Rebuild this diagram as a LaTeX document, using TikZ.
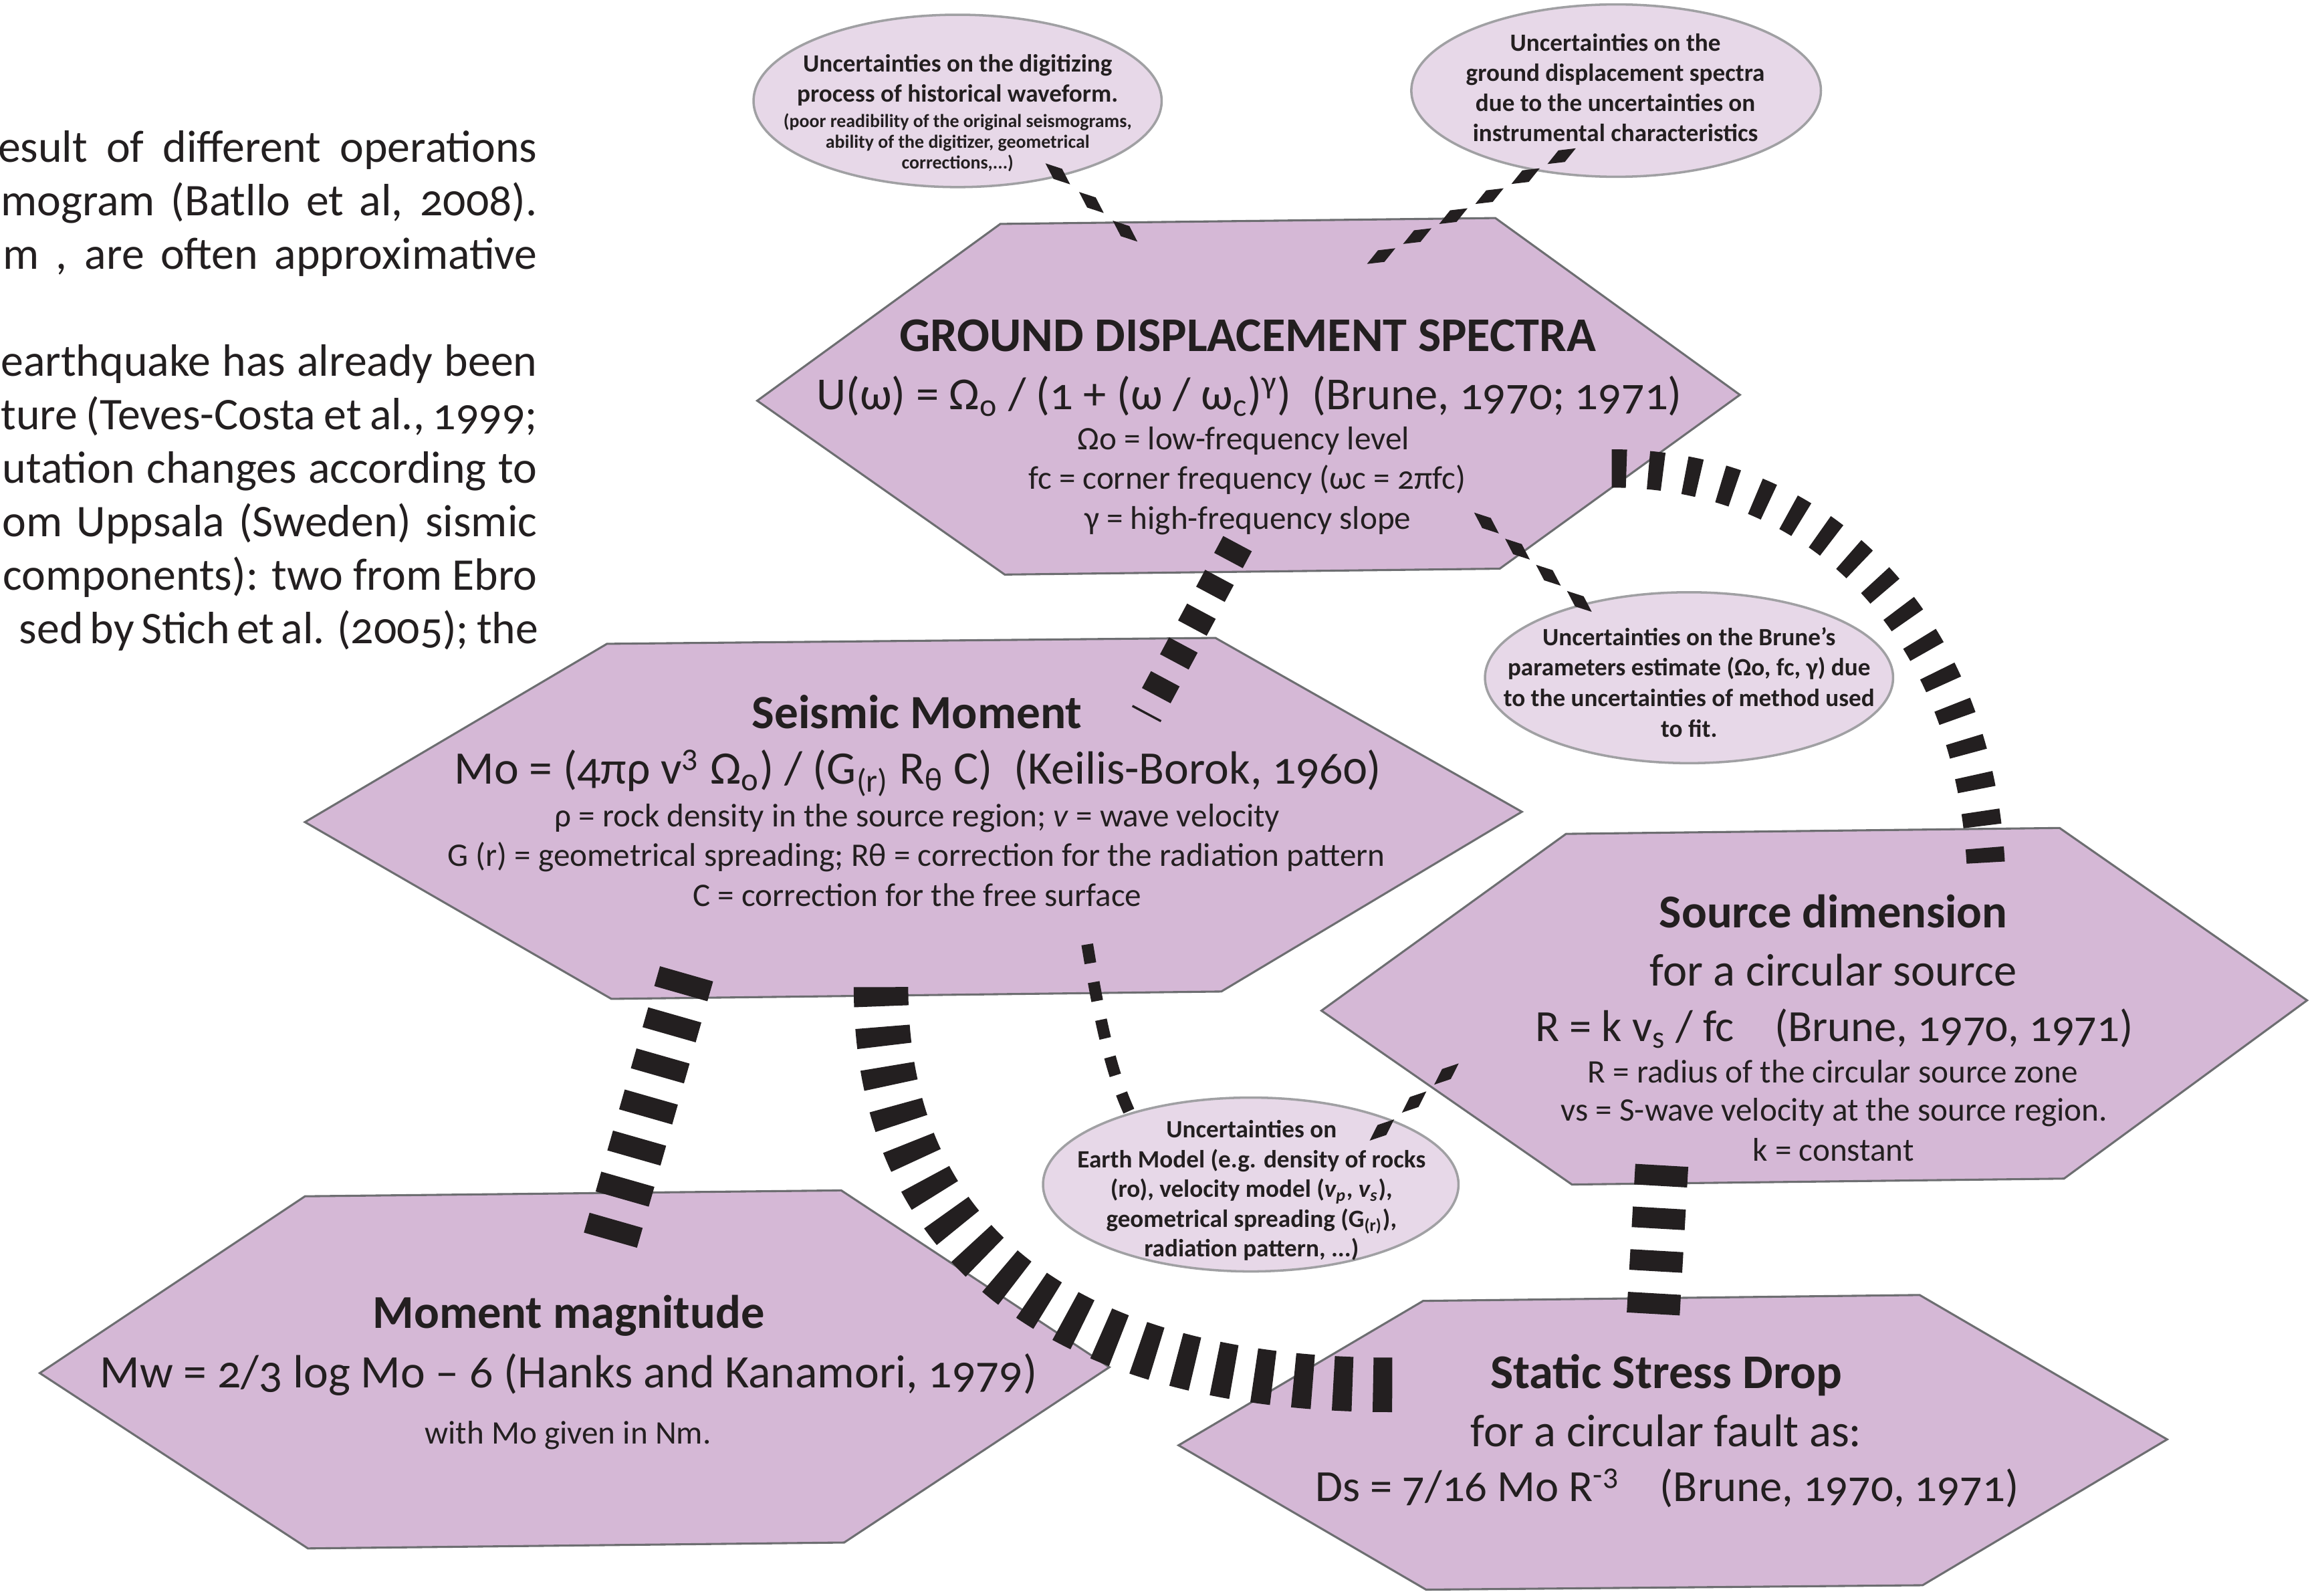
\documentclass[tikz,border=0pt]{standalone}
\usepackage{fontspec}
\setmainfont{Carlito}[Numbers=OldStyle]
\usetikzlibrary{shapes.geometric,decorations.markings,calc}

\definecolor{ink}{HTML}{231F20}
\definecolor{hexfill}{HTML}{D5B8D6}
\definecolor{hexline}{HTML}{6D6E71}
\definecolor{bubfill}{HTML}{E7D8E8}
\definecolor{bubline}{HTML}{A0A0A3}

\tikzset{
  hexa/.style={fill=hexfill, draw=hexline, line width=0.28mm},
  bubble/.style={ellipse, fill=bubfill, draw=bubline, line width=0.32mm, inner sep=0pt},
  ttl/.style={anchor=base, inner sep=0pt, text=ink, font=\fontsize{#1}{#1}\selectfont\bfseries},
  ttl/.default=18.4,
  eqn/.style={anchor=base, inner sep=0pt, text=ink, font=\fontsize{#1}{#1}\selectfont},
  eqn/.default=18,
  note/.style={anchor=base, inner sep=0pt, text=ink, font=\fontsize{12.7}{15}\selectfont},
  bubtext/.style 2 args={align=center, inner sep=0pt, text=ink, font=\fontsize{#1}{#2}\selectfont\bfseries},
  para/.style={anchor=base east, inner sep=0pt, text=ink, font=\fontsize{17.5}{20}\selectfont},
  bars/.style={draw=ink, line cap=butt},
  diamonds/.style={decoration={markings, mark=between positions 0 and 1 step #1 with {\fill[ink] (-11,0) -- (0,4.5) -- (11,0) -- (0,-4.5) -- cycle;}}, decorate},
}

\begin{document}
\begin{tikzpicture}[x=0.2mm, y=-0.2mm]
\path[use as bounding box, fill=white] (0,0) rectangle (1568,1083);

\foreach \i/\y/\xs/\txt in {1/110/-1/{esult of different operations}, 2/146.3/1/{mogram (Batllo et al, 2008).}, 3/182.6/2.5/{m , are often approximative}, 4/255.2/1/{earthquake has already been}, 5/291.5/1/{ture (Teves-Costa et al., 1999;}, 6/327.8/2/{utation changes according to}, 7/364.1/2/{om Uppsala (Sweden) sismic}, 8/400.4/2.5/{components): two from Ebro}, 9/436.7/13.5/{sed by Stich et al. (2005); the}}{
  \pgfmathsetlengthmacro{\w}{(365-\xs)*0.2mm}
  \node[para] (par-\i) at (365,\y) {\makebox[\w][s]{\txt}};
}

\draw[hexa] (679,152) -- (1015,148) -- (1181,268) -- (1018,386) -- (682,390) -- (514,272) -- cycle;
\coordinate (gds) at (848,269);
\node[ttl=18.7] (gds-1) at (847,238.5) {GROUND DISPLACEMENT SPECTRA};
\node[eqn=17.7] (gds-2) at (848,278) {U(ω) = Ω\textsubscript{o} / (1 + (ω / ω\textsubscript{c})\textsuperscript{γ})~~(Brune, 1970; 1971)};
\node[note] (gds-3) at (844,305) {Ωo = low-frequency level};
\node[note] (gds-4) at (846.5,332) {fc = corner frequency (ωc = 2πfc)};
\node[note] (gds-5) at (847,359) {γ = high-frequency slope};

\draw[hexa] (412,437) -- (825,433) -- (1033,551) -- (829,673) -- (415,678) -- (207,558) -- cycle;
\coordinate (moment) at (620,555);
\node[ttl] (moment-1) at (622.5,494.5) {Seismic Moment};
\node[eqn] (moment-2) at (623,532) {Mo = (4πρ v\textsuperscript{3} Ω\textsubscript{o}) / (G\textsubscript{(r)} R\textsubscript{θ} C)~~(Keilis-Borok, 1960)};
\node[note] (moment-3) at (622.5,561) {ρ = rock density in the source region; \textit{v} = wave velocity};
\node[note] (moment-4) at (622,588) {G (r) = geometrical spreading; Rθ = correction for the radiation pattern};
\node[note] (moment-5) at (622.5,615) {C = correction for the free surface};

\draw[hexa] (207,812) -- (571,808) -- (753,928) -- (573,1047) -- (209,1051) -- (27,932) -- cycle;
\coordinate (mag) at (390,932);
\node[ttl=18.2] (mag-1) at (386,901.5) {Moment magnitude};
\node[eqn] (mag-2) at (386,942) {Mw = 2/3 log Mo -- 6 (Hanks and Kanamori, 1979)};
\node[note] (mag-3) at (385.5,980) {with Mo given in Nm.};

\draw[hexa] (966,883) -- (1303,879) -- (1471,977) -- (1305,1076) -- (968,1079) -- (800,981) -- cycle;
\coordinate (drop) at (1135,979);
\node[ttl=18.7] (drop-1) at (1131,942.5) {Static Stress Drop};
\node[eqn=17.7] (drop-2) at (1131,982) {for a circular fault as:};
\node[eqn=17.2] (drop-3) at (1131.5,1019) {Ds = 7/16 Mo R\textsuperscript{-3}\hspace{0.9em}(Brune, 1970, 1971)};

\draw[hexa] (1063,566) -- (1398,562) -- (1566,679) -- (1401,800) -- (1067,804) -- (897,686) -- cycle;
\coordinate (source) at (1232,683);
\node[ttl=18.2] (source-1) at (1244.5,629.5) {Source dimension};
\node[eqn=17.7] (source-2) at (1244.5,669) {for a circular source};
\node[eqn=17.2] (source-3) at (1245,707) {R = k v\textsubscript{s} / fc\hspace{0.9em}(Brune, 1970, 1971)};
\node[note] (source-4) at (1244,735) {R = radius of the circular source zone};
\node[note] (source-5) at (1245,761) {vs = S-wave velocity at the source region.};
\node[note] (source-6) at (1244.5,788) {k = constant};

\node[bubble, minimum width=55.4mm, minimum height=23.4mm] (digit) at (650,68.5) {};
\node[bubtext={9.6}{11.7}] (digit-1) at (650,54.5) {Uncertainties on the digitizing\\process of historical waveform.};
\node[bubtext={7.2}{8}] (digit-2) at (650,97) {(poor readibility of the original seismograms,\\ability of the digitizer, geometrical\\corrections,...)};

\node[bubble, minimum width=55.6mm, minimum height=23.4mm] (instr) at (1097,61.5) {};
\node[bubtext={9.6}{11.6}] (instr-1) at (1096.5,59.5) {Uncertainties on the\\ground displacement spectra\\due to the uncertainties on\\instrumental characteristics};

\node[bubble, minimum width=55.4mm, minimum height=23.2mm] (brune) at (1146.5,460) {};
\node[bubtext={9.6}{11.8}] (brune-1) at (1146.5,463) {Uncertainties on the Brune’s\\parameters estimate (Ωo, fc, γ) due\\to the uncertainties of method used\\to fit.};

\node[bubble, minimum width=56.4mm, minimum height=23.6mm] (earth) at (849,804) {};
\node[bubtext={9.6}{11.5}] (earth-1) at (849.5,808) {Uncertainties on\\Earth Model (e.g. density of rocks\\(ro), velocity model (\textit{v\textsubscript{p}}, \textit{v\textsubscript{s}}),\\geometrical spreading (G\textsubscript{(r)}),\\radiation pattern, ...)};

\path[diamonds=6mm] ($(digit)+(68,49.5)$) -- ($(gds)+(-83,-111)$);
\path[diamonds=5.6mm] ($(instr)+(-37,44.5)$) -- ($(gds)+(82,-91)$);
\path[diamonds=5.5mm] ($(gds)+(161,86)$) -- ($(brune)+(-73.5,-51)$);
\path[diamonds=5.8mm] ($(earth)+(89,-37)$) -- ($(source)+(-249,45)$);
\draw[bars, line width=4.4mm, dash pattern=on 2.6mm off 2.6mm] ($(gds)+(-8,100)$) -- ($(moment)+(158,-70)$);
\draw[bars, line width=5.2mm, dash pattern=on 2mm off 3mm] ($(gds)+(246,49)$) .. controls +(146,0) and +(-8,-158) .. ($(source)+(116,-95)$);
\draw[bars, line width=7.5mm, dash pattern=on 2.8mm off 3mm] ($(moment)+(-154,106)$) -- ($(mag)+(24,-89)$);
\draw[bars, line width=7.4mm, dash pattern=on 2.6mm off 2.8mm] ($(moment)+(-22,115)$) .. controls +(0,180) and +(-215,0) .. ($(drop)+(-190,-39)$);
\draw[bars, line width=1.6mm, dash pattern=on 2.6mm off 2.6mm] ($(moment)+(118,86)$) .. controls +(8,49) and +(-15,-30) .. ($(earth)+(-80,-44)$);
\draw[bars, line width=7.2mm, dash pattern=on 2.8mm off 3mm] ($(source)+(-104,108)$) -- ($(drop)+(-13,-84)$);
\end{tikzpicture}
\end{document}
